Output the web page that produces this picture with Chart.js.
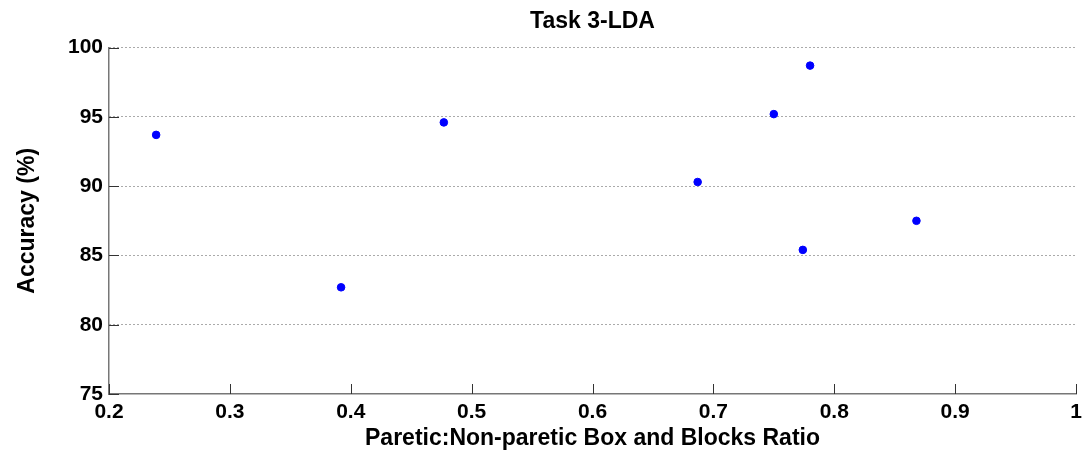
<!DOCTYPE html>
<html>
<head>
<meta charset="utf-8">
<script src="https://cdn.jsdelivr.net/npm/chart.js@4/dist/chart.umd.min.js"></script>
<style>
  html, body { margin: 0; padding: 0; background: #fff; }
  #wrap { width: 1084px; height: 454px; }
</style>
</head>
<body>
<div id="wrap"><canvas id="chart"></canvas></div>
<script>
// box and blocks ratio vs. accuracy, one point per subject
const ratio = [0.239, 0.392, 0.477, 0.687, 0.750, 0.774, 0.780, 0.868];
const accuracy = [93.7, 82.7, 94.6, 90.3, 95.2, 85.4, 98.7, 87.5];
const xTicks = [0.2, 0.3, 0.4, 0.5, 0.6, 0.7, 0.8, 0.9, 1];
const yTicks = [75, 80, 85, 90, 95, 100];

const points = ratio.map((r, i) => ({ x: r, y: accuracy[i] }));

// matlab style: tick marks drawn inside the axes
const innerTicks = {
  id: 'innerTicks',
  afterDraw(chart) {
    const { ctx, chartArea, scales } = chart;
    ctx.save();
    ctx.strokeStyle = '#333';
    ctx.lineWidth = 1;
    ctx.beginPath();
    xTicks.forEach(v => {
      const px = Math.round(scales.x.getPixelForValue(v)) + 0.5;
      ctx.moveTo(px, chartArea.bottom);
      ctx.lineTo(px, chartArea.bottom - 10);
    });
    yTicks.forEach(v => {
      const py = Math.round(scales.y.getPixelForValue(v)) + 0.5;
      ctx.moveTo(chartArea.left, py);
      ctx.lineTo(chartArea.left + 10, py);
    });
    ctx.stroke();
    ctx.restore();
  }
};

new Chart(document.getElementById('chart'), {
  type: 'scatter',
  data: {
    datasets: [{
      data: points,
      backgroundColor: '#0000ff',
      borderColor: '#0000ff',
      pointRadius: 3.8,
      pointHoverRadius: 3.8
    }]
  },
  options: {
    responsive: true,
    maintainAspectRatio: false,
    animation: false,
    layout: { padding: { left: 0, right: 8, top: 0, bottom: 0 } },
    plugins: {
      legend: { display: false },
      tooltip: { enabled: false },
      title: {
        display: true,
        fullSize: false,
        text: 'Task 3-LDA',
        color: '#000',
        font: { family: 'Liberation Sans', size: 23, weight: 'bold' },
        padding: { top: 8, bottom: 12 }
      }
    },
    scales: {
      x: {
        type: 'linear',
        min: 0.2,
        max: 1,
        afterBuildTicks: s => { s.ticks = xTicks.map(v => ({ value: v })); },
        afterFit: s => { s.height = 60; s.paddingRight = 0; s.paddingLeft = 0; },
        grid: { display: false, drawTicks: false },
        border: { display: true, color: '#777', width: 1.5 },
        ticks: {
          color: '#000',
          padding: 6,
          maxRotation: 0,
          font: { family: 'Liberation Sans', size: 21, weight: 'bold' },
          callback: v => String(v)
        },
        title: {
          display: true,
          text: 'Paretic:Non-paretic Box and Blocks Ratio',
          color: '#000',
          font: { family: 'Liberation Sans', size: 23, weight: 'bold' },
          padding: { top: 0, bottom: 2 }
        }
      },
      y: {
        min: 75,
        max: 100,
        afterBuildTicks: s => { s.ticks = yTicks.map(v => ({ value: v })); },
        afterFit: s => { s.width = 109; },
        grid: {
          drawTicks: false,
          color: ctx => ctx.tick && ctx.tick.value === 75 ? 'rgba(0,0,0,0)' : '#555',
          lineWidth: 1
        },
        border: { display: true, color: '#777', width: 1.5, dash: [1, 3] },
        ticks: {
          color: '#000',
          padding: 6,
          font: { family: 'Liberation Sans', size: 21, weight: 'bold' }
        },
        title: {
          display: true,
          text: 'Accuracy (%)',
          color: '#000',
          font: { family: 'Liberation Sans', size: 23, weight: 'bold' },
          padding: { top: 14, bottom: 0 }
        }
      }
    }
  },
  plugins: [innerTicks]
});
</script>
</body>
</html>
